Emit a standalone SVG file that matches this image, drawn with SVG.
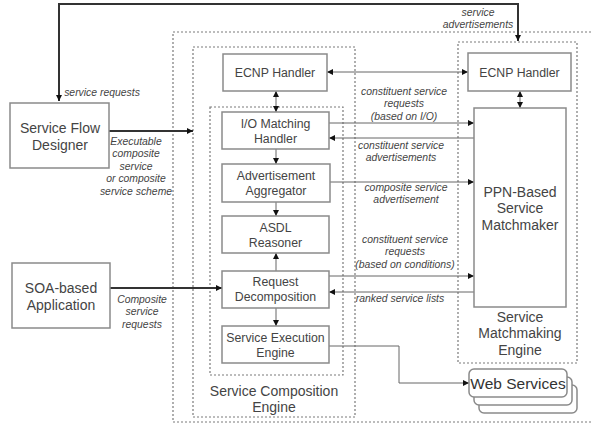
<svg xmlns="http://www.w3.org/2000/svg" width="592" height="423" viewBox="0 0 592 423">
<defs>
<marker id="ah" viewBox="0 0 6 6" refX="6" refY="3" markerWidth="6" markerHeight="6" markerUnits="userSpaceOnUse" orient="auto-start-reverse">
<path d="M0,0 L6,3 L0,6 z" fill="#111"/>
</marker>
<style>
.box{fill:#fff;stroke:#8a8a8a;stroke-width:1.5}
.dot{fill:none;stroke:#7a7a7a;stroke-width:1.2;stroke-dasharray:2 2}
.lbl{font-family:"Liberation Sans",Arial,sans-serif;font-size:12.3px;fill:#444;text-anchor:middle}
.big{font-family:"Liberation Sans",Arial,sans-serif;font-size:14px;fill:#444;text-anchor:middle}
.it{font-family:"Liberation Sans",Arial,sans-serif;font-size:10.4px;font-style:italic;fill:#444;text-anchor:middle}
.thin{fill:none;stroke:#666;stroke-width:1}
.thick{fill:none;stroke:#333;stroke-width:2}
</style>
</defs>
<rect width="592" height="423" fill="#fff"/>

<g id="containers">
<rect class="dot" x="173" y="32" width="440" height="390"/>
<rect class="dot" x="193" y="47" width="162" height="370"/>
<rect class="dot" x="210" y="107" width="133" height="268"/>
<rect class="dot" x="458" y="42" width="119" height="321"/>
<text class="big" x="274" y="396">Service Composition</text>
<text class="big" x="274" y="412">Engine</text>
<text class="big" x="520" y="322">Service</text>
<text class="big" x="520" y="338">Matchmaking</text>
<text class="big" x="520" y="355">Engine</text>
</g>

<g id="connectors">
<path class="thick" d="M59,101 V4 H518 V41" marker-start="url(#ah)" marker-end="url(#ah)"/>
<path class="thick" d="M109,131 H193" marker-end="url(#ah)"/>
<path class="thick" d="M110,288 H222" marker-end="url(#ah)"/>
<path class="thin" d="M327,72 H468" marker-start="url(#ah)" marker-end="url(#ah)"/>
<path class="thin" d="M276,91 V112" marker-start="url(#ah)" marker-end="url(#ah)"/>
<path class="thin" d="M276,149 V164" marker-end="url(#ah)"/>
<path class="thin" d="M276,202 V216" marker-end="url(#ah)"/>
<path class="thin" d="M276,271 V253" marker-end="url(#ah)"/>
<path class="thin" d="M276,308 V326" marker-end="url(#ah)"/>
<path class="thin" d="M329,123 H474" marker-end="url(#ah)"/>
<path class="thin" d="M474,138 H329" marker-end="url(#ah)"/>
<path class="thin" d="M330,182 H474" marker-end="url(#ah)"/>
<path class="thin" d="M329,276 H474" marker-end="url(#ah)"/>
<path class="thin" d="M474,292 H329" marker-end="url(#ah)"/>
<path class="thin" d="M329,346 H399 V383 H469" marker-end="url(#ah)"/>
<path class="thin" d="M520,91 V108" marker-start="url(#ah)" marker-end="url(#ah)"/>
</g>

<g id="edge-labels">
<text class="it" x="478" y="15.5">service</text>
<text class="it" x="478" y="27.5">advertisements</text>
<text class="it" x="102" y="95.5">service requests</text>
<text class="it" x="136" y="144.5">Executable</text>
<text class="it" x="136" y="157">composite</text>
<text class="it" x="136" y="169.5">service</text>
<text class="it" x="136" y="182">or composite</text>
<text class="it" x="136" y="194.5">service scheme</text>
<text class="it" x="142" y="302.5">Composite</text>
<text class="it" x="142" y="315">service</text>
<text class="it" x="142" y="327.5">requests</text>
<text class="it" x="404" y="94.5">constituent service</text>
<text class="it" x="404" y="107">requests</text>
<text class="it" x="404" y="119.5">(based on I/O)</text>
<text class="it" x="401" y="148.5">constituent service</text>
<text class="it" x="401" y="160.5">advertisements</text>
<text class="it" x="406" y="190.5">composite service</text>
<text class="it" x="406" y="202.5">advertisement</text>
<text class="it" x="405" y="242.5">constituent service</text>
<text class="it" x="405" y="255">requests</text>
<text class="it" x="405" y="267.5">(based on conditions)</text>
<text class="it" x="400" y="301.5">ranked service lists</text>
</g>

<g id="sfd">
<rect class="box" x="10" y="103" width="99" height="65"/>
<text class="big" x="60" y="133">Service Flow</text>
<text class="big" x="60" y="150">Designer</text>
</g>
<g id="soa">
<rect class="box" x="12" y="263" width="98" height="65"/>
<text class="big" x="61" y="293">SOA-based</text>
<text class="big" x="61" y="310">Application</text>
</g>
<g id="ecnp-left">
<rect class="box" x="223" y="54" width="104" height="37"/>
<text class="lbl" x="275" y="76.5">ECNP Handler</text>
</g>
<g id="io-matching">
<rect class="box" x="222" y="112" width="107" height="37"/>
<text class="lbl" x="275.5" y="127.5">I/O Matching</text>
<text class="lbl" x="275.5" y="142.5">Handler</text>
</g>
<g id="adv-aggregator">
<rect class="box" x="222" y="164" width="108" height="38"/>
<text class="lbl" x="276" y="179.5">Advertisement</text>
<text class="lbl" x="276" y="194.5">Aggregator</text>
</g>
<g id="asdl">
<rect class="box" x="222" y="216" width="107" height="37"/>
<text class="lbl" x="275.5" y="232">ASDL</text>
<text class="lbl" x="275.5" y="247">Reasoner</text>
</g>
<g id="req-decomp">
<rect class="box" x="222" y="271" width="107" height="37"/>
<text class="lbl" x="275.5" y="286">Request</text>
<text class="lbl" x="275.5" y="301">Decomposition</text>
</g>
<g id="exec-engine">
<rect class="box" x="222" y="326" width="107" height="37"/>
<text class="lbl" x="275.5" y="342">Service Execution</text>
<text class="lbl" x="275.5" y="357">Engine</text>
</g>
<g id="ecnp-right">
<rect class="box" x="468" y="53" width="103" height="38"/>
<text class="lbl" x="519.5" y="77">ECNP Handler</text>
</g>
<g id="ppn">
<rect class="box" x="474" y="108" width="92" height="199"/>
<text class="big" x="520" y="197">PPN-Based</text>
<text class="big" x="520" y="213">Service</text>
<text class="big" x="520" y="230">Matchmaker</text>
</g>
<g id="web-services">
<rect class="box" x="479" y="385" width="98" height="28" rx="5"/>
<rect class="box" x="474" y="377" width="98" height="28" rx="5"/>
<rect class="box" x="469" y="369" width="98" height="28" rx="5"/>
<text x="518" y="389" font-family="Liberation Sans, Arial, sans-serif" font-size="15.5" fill="#333" text-anchor="middle">Web Services</text>
</g>
</svg>
